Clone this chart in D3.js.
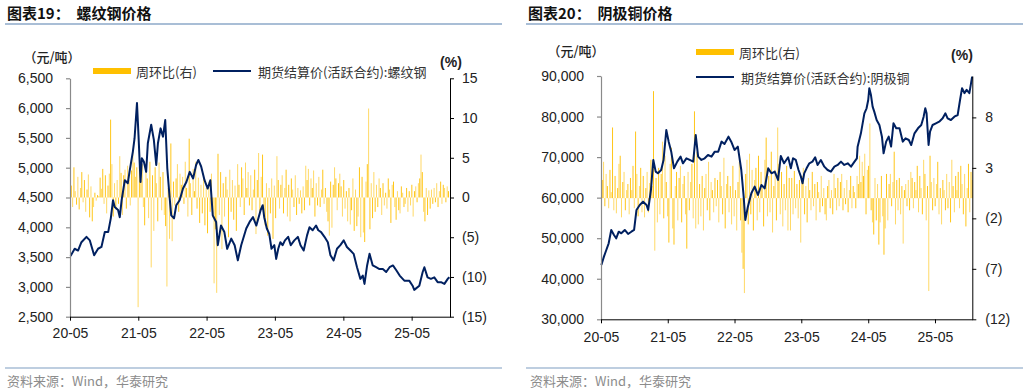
<!DOCTYPE html>
<html><head><meta charset="utf-8">
<script src="https://cdn.jsdelivr.net/npm/d3@7"></script>
<style>
body{margin:0;background:#fff}
svg{display:block}
.num{font-family:"Liberation Sans",Arial,sans-serif}
.cjk{font-family:"Noto Sans CJK SC","Noto Sans",sans-serif}
</style>
</head><body><svg id="c" width="1029" height="392"></svg>
<script>
// ---------- DATA ----------
const barStart = "2020-05-08"; // weekly bars, one per week from this date
const xTickDates = ["2020-05-01","2021-05-01","2022-05-01","2023-05-01","2024-05-01","2025-05-01"];

const rebarDates = ["2020-05-04","2020-05-26","2020-06-13","2020-07-01","2020-07-28","2020-08-15","2020-09-07","2020-09-28","2020-10-16","2020-11-03","2020-11-21","2020-12-05","2020-12-17","2020-12-26","2021-01-13","2021-01-22","2021-02-01","2021-02-18","2021-03-06","2021-03-15","2021-04-02","2021-04-11","2021-04-24","2021-05-02","2021-05-13","2021-05-20","2021-05-31","2021-06-12","2021-06-21","2021-07-09","2021-07-23","2021-08-05","2021-08-14","2021-08-28","2021-09-10","2021-09-22","2021-10-03","2021-10-16","2021-10-24","2021-11-08","2021-11-20","2021-12-08","2021-12-26","2022-01-13","2022-01-31","2022-02-18","2022-03-06","2022-03-18","2022-04-02","2022-04-20","2022-05-07","2022-05-21","2022-06-03","2022-06-21","2022-06-30","2022-07-17","2022-08-04","2022-08-19","2022-09-10","2022-09-28","2022-10-15","2022-11-02","2022-11-29","2022-12-17","2023-01-04","2023-01-22","2023-02-09","2023-02-14","2023-02-25","2023-03-05","2023-03-19","2023-04-01","2023-04-13","2023-04-28","2023-05-08","2023-05-19","2023-05-30","2023-06-11","2023-06-24","2023-07-11","2023-07-25","2023-08-13","2023-09-01","2023-09-15","2023-10-02","2023-10-20","2023-11-02","2023-11-19","2023-12-07","2023-12-19","2024-01-03","2024-01-21","2024-02-08","2024-02-22","2024-03-10","2024-03-28","2024-04-15","2024-05-03","2024-05-20","2024-06-08","2024-06-25","2024-07-13","2024-07-31","2024-08-13","2024-08-22","2024-09-05","2024-09-18","2024-10-05","2024-10-23","2024-11-10","2024-11-28","2024-12-16","2025-01-03","2025-01-21","2025-02-08","2025-02-26","2025-03-23","2025-04-18","2025-05-06","2025-05-15","2025-06-11","2025-06-29","2025-07-08","2025-07-25","2025-08-12","2025-08-30","2025-09-17","2025-10-05","2025-10-23","2025-11-10","2025-11-19"];
const rebarPrice = [3520,3640,3610,3750,3840,3780,3530,3640,3670,3920,3920,4150,4455,4340,4290,4170,4455,4790,4740,4930,5270,5490,6085,5550,4760,5160,5100,4930,5410,5720,5470,5045,5410,5660,5520,5800,4990,4480,4200,4150,4370,4455,4650,4760,4930,4820,5045,5130,5020,4790,4650,4790,4200,4090,3700,4030,3920,3640,3810,3700,3445,3700,3980,4090,4170,4030,4230,4290,4370,4170,3980,3890,3640,3700,3470,3640,3750,3700,3780,3840,3700,3780,3840,3700,3610,3865,4000,3950,4030,3950,3920,3840,3750,3530,3445,3640,3700,3780,3670,3610,3555,3330,3135,3190,3050,3360,3555,3360,3330,3300,3300,3250,3330,3360,3280,3190,3105,3105,3020,2950,3020,3250,3330,3160,3135,3160,3080,3080,3050,3135,3160];
const rebarWoW = [1.5,-1.2,3.8,0.8,-0.9,2.6,-1.5,1.2,3.2,-0.6,
2.2,-1.8,1.0,2.9,-2.5,1.4,-3.0,-1.2,0.6,-0.4,
0.3,0.2,2.5,1.1,3.6,-0.8,2.8,-2.0,1.5,3.0,
9.8,4.2,-2.4,1.8,-1.5,2.2,-0.8,5.2,3.1,-2.2,
2.8,3.5,-1.4,4.0,2.2,-1.0,3.4,5.8,4.4,2.6,
3.8,-13.8,3.9,2.0,4.2,-1.2,-3.5,3.6,2.4,-2.6,
4.5,-8.8,2.8,-4.2,3.8,1.8,-3.0,4.4,2.6,-1.6,
3.2,-2.2,-3.6,-11.2,1.2,-5.2,6.8,-5.5,2.0,-1.0,
2.4,4.2,-1.8,3.0,1.6,2.6,-0.8,4.5,1.2,-2.4,
7.4,1.8,-2.2,3.6,0.8,4.5,-1.4,2.5,-3.2,1.6,
-2.0,2.8,-3.5,1.2,-4.5,2.0,-1.8,3.0,-2.5,-10.8,
-4.0,-12.0,5.5,-2.2,3.2,-6.5,1.8,-2.4,2.6,1.0,
-5.0,3.5,-1.8,2.2,-2.8,1.5,-4.2,4.2,1.6,-1.2,
3.8,2.4,-2.2,4.4,1.2,3.2,-1.0,2.8,-1.6,1.0,
3.5,-4.6,2.2,5.6,-1.8,2.6,
5.4,-2.2,-3.5,1.8,-4.8,1.2,-2.0,2.4,-5.2,1.5,
-2.6,5.2,2.2,-1.4,1.6,2.8,-2.0,1.2,3.5,-2.4,
1.6,-3.0,2.4,1.0,-1.2,2.8,-2.2,1.2,-0.8,0.9,
-2.0,1.4,-1.6,4.0,2.2,3.6,-1.0,2.4,1.2,3.4,
-2.4,1.8,-1.0,2.6,-1.2,1.0,3.5,-0.8,1.2,-1.8,
-3.0,-4.8,2.0,-3.8,1.6,3.8,2.4,-1.6,1.8,3.0,
1.4,-2.4,2.2,-1.4,0.8,-3.0,1.2,-3.4,-1.6,2.4,
-4.2,1.0,-3.6,-2.4,3.8,-5.0,2.6,-4.4,-5.6,2.0,
4.2,11.2,-4.0,1.8,-2.6,3.2,-1.8,1.6,-1.2,2.4,
1.2,-2.2,1.8,-1.0,0.6,-1.4,2.4,1.0,-3.2,1.6,
2.0,-1.2,-2.8,0.8,-1.6,-2.0,1.4,0.6,-1.2,-0.8,
1.2,-1.8,0.8,-1.0,1.6,-2.4,0.8,1.4,-0.6,1.8,
2.4,5.4,3.2,-1.8,-3.0,1.2,-2.2,0.9,-1.4,1.0,
-0.8,1.2,-0.6,1.8,-1.2,0.8,2.0,-0.8,1.6,1.2,
-0.6,1.4,0.8];

const copperDates = ["2020-05-03","2020-05-17","2020-05-30","2020-06-12","2020-06-26","2020-07-11","2020-07-23","2020-08-06","2020-08-20","2020-09-08","2020-09-26","2020-10-14","2020-10-29","2020-11-11","2020-11-29","2020-12-17","2021-01-05","2021-01-14","2021-01-29","2021-02-11","2021-02-24","2021-03-08","2021-03-26","2021-04-08","2021-04-23","2021-05-06","2021-05-20","2021-06-04","2021-06-22","2021-07-10","2021-07-23","2021-08-11","2021-08-29","2021-09-17","2021-10-01","2021-10-14","2021-11-01","2021-11-19","2021-12-07","2021-12-26","2022-01-13","2022-02-01","2022-02-19","2022-03-07","2022-03-29","2022-04-13","2022-05-01","2022-05-19","2022-06-07","2022-06-20","2022-06-29","2022-07-13","2022-08-01","2022-08-19","2022-09-06","2022-09-25","2022-10-13","2022-11-01","2022-11-19","2022-12-07","2022-12-25","2023-01-09","2023-01-27","2023-02-18","2023-02-22","2023-03-05","2023-03-17","2023-04-01","2023-04-16","2023-04-29","2023-05-08","2023-05-17","2023-05-30","2023-06-14","2023-07-01","2023-07-16","2023-07-29","2023-08-16","2023-09-04","2023-09-22","2023-10-10","2023-10-29","2023-11-16","2023-12-04","2023-12-22","2024-01-10","2024-01-28","2024-02-16","2024-02-29","2024-03-04","2024-03-22","2024-04-10","2024-04-22","2024-05-01","2024-05-07","2024-05-16","2024-05-25","2024-06-03","2024-06-16","2024-07-01","2024-07-15","2024-07-24","2024-08-07","2024-08-21","2024-09-03","2024-09-16","2024-10-01","2024-10-19","2024-10-28","2024-11-06","2024-11-21","2024-12-09","2024-12-22","2025-01-09","2025-01-28","2025-02-15","2025-02-28","2025-03-09","2025-03-16","2025-03-27","2025-04-04","2025-04-18","2025-05-06","2025-05-24","2025-06-12","2025-06-27","2025-07-09","2025-07-27","2025-08-15","2025-09-02","2025-09-15","2025-09-26","2025-10-09","2025-10-21","2025-11-05","2025-11-14","2025-11-20"];
const copperPrice = [43400,45450,47100,48740,52030,50800,49970,51600,51200,52030,51040,51600,52030,56960,58190,59010,58190,56960,61890,69290,66410,66000,66820,69290,76690,73810,71340,67230,68880,70110,68470,69700,69290,68880,75450,70110,69290,69700,70520,70110,71340,71340,73810,73230,75040,73810,71760,72580,66820,60250,54490,57780,61070,62710,60660,63120,62300,67230,66000,66410,64360,70270,68470,69950,69290,67230,69700,69290,66820,65180,63530,66000,67230,68470,68880,69950,68060,69290,67640,66820,66410,67640,68060,68880,68060,68470,67640,68880,69700,72580,75860,80800,82030,84080,87000,85300,82440,81210,79150,77920,75040,70930,73810,75040,72580,78330,77100,77100,75450,73810,74630,74220,72990,75860,77100,77920,79970,82030,80800,72990,76280,77920,78330,78740,79560,80800,79560,79150,79970,80380,84080,87000,85770,86590,85770,88200,89840];
const copperWoW = [1.8,3.6,-0.8,2.4,1.2,-1.0,2.8,0.6,7.0,-1.2,
2.2,-1.5,1.0,3.4,4.2,-1.9,1.6,2.6,-1.2,0.8,
1.4,-1.6,2.0,0.8,3.2,-1.0,6.6,2.4,-1.8,1.2,
3.0,-1.4,2.2,-1.9,1.0,2.6,-1.4,1.5,3.8,1.2,
10.6,-5.2,2.0,-2.4,3.0,-1.6,2.4,5.6,-2.0,4.2,
1.6,-1.8,-4.4,3.4,5.0,-3.0,-4.6,1.2,2.6,-2.2,
2.0,3.2,-2.4,1.4,2.2,-1.6,-5.0,2.6,-1.2,1.6,
3.4,-2.0,8.6,-3.0,4.6,-2.6,1.4,-1.8,2.2,-3.2,
1.0,2.4,-1.2,3.6,-2.2,1.6,0.8,-1.4,2.0,-0.8,
1.8,-2.4,2.6,1.2,-1.6,4.0,-3.0,1.4,2.2,-1.4,
1.2,-2.6,3.2,-1.8,0.8,-3.2,1.6,3.6,-2.2,-5.4,
-7.0,-9.4,2.4,3.8,-2.6,4.4,-1.6,2.8,-3.2,1.8,
3.0,-2.2,4.2,-1.4,2.6,1.0,-2.8,3.8,6.0,-1.8,
2.2,-1.4,4.6,-3.4,1.2,2.8,-2.2,7.0,3.4,-1.6,
2.6,-2.8,1.4,-1.2,3.2,-3.2,2.0,
-3.2,2.0,-1.6,2.7,-1.0,1.4,-2.0,1.8,-4.4,2.2,
3.0,-1.6,1.2,-2.4,2.0,0.8,-1.2,2.6,-0.8,1.4,
-2.2,1.6,0.6,-1.4,2.2,-0.8,1.0,-1.6,-2.2,1.2,
1.8,-1.0,0.8,-1.6,2.4,1.0,-1.2,2.0,-0.8,1.6,
2.4,-1.2,1.0,-0.6,1.8,-1.4,0.8,2.2,-1.0,1.2,
0.6,-1.0,2.2,1.4,4.2,1.6,3.6,2.2,4.4,-1.6,
2.8,3.2,7.4,-1.2,-2.4,-3.6,2.0,-2.2,1.4,-4.6,
-2.4,2.2,-1.8,-5.6,-3.0,2.4,-2.2,1.4,2.4,-0.8,
1.6,4.6,-2.6,1.8,-1.2,2.0,-1.6,1.2,-4.5,0.8,
1.4,-0.8,1.8,-1.2,2.6,2.0,-1.0,1.6,0.8,3.2,
-1.4,2.2,1.0,-1.6,3.8,2.4,-2.2,1.2,-9.2,4.2,
1.6,-1.2,2.0,-0.8,1.4,3.6,-1.6,1.0,-2.6,1.8,
0.8,-1.2,2.4,-1.0,1.6,-2.4,3.8,1.2,-1.4,2.2,
0.8,2.6,-1.0,3.2,1.4,-1.6,2.4,-2.8,1.0,3.4,
-1.4,2.6,1.8];

const rebarLeftTicks = [2500,3000,3500,4000,4500,5000,5500,6000,6500];
const rebarRightTicks = [-15,-10,-5,0,5,10,15];
const copperLeftTicks = [30000,40000,50000,60000,70000,80000,90000];
const copperRightTicks = [-12,-7,-2,3,8];

const legendBar = "周环比(右)";
const unitLeft = "（元/吨）";
const unitRight = "(%)";
const sourceText = "资料来源：Wind，华泰研究";

// ---------- DRAW ----------
const svg = d3.select("#c");
const parse = d3.timeParse("%Y-%m-%d");
const BAR = "#FFC000", LINE = "#002060";
const pctFmt = v => v < 0 ? `(${-v})` : `${v}`;

function drawChart(c) {
  const g = svg.append("g");
  g.append("text").attr("class","cjk").attr("x", c.px).attr("y", 19)
    .attr("font-size", 15).attr("font-weight", 700).attr("fill", "#111")
    .attr("xml:space","preserve").style("white-space","pre").text(c.title);
  g.append("line").attr("x1", c.px - 2).attr("x2", c.px + 495).attr("y1", 24).attr("y2", 24)
    .attr("stroke", "#a9bed6").attr("stroke-width", 2);
  g.append("line").attr("x1", c.px - 2).attr("x2", c.px + 495).attr("y1", 368).attr("y2", 368)
    .attr("stroke", "#a9bed6").attr("stroke-width", 1.5);
  g.append("text").attr("class","cjk").attr("x", c.px + c.srcDx).attr("y", 386)
    .attr("font-size", 13).attr("fill", "#8c8c8c").text(sourceText);

  const x = d3.scaleTime().domain([parse("2020-05-01"), parse(c.xEnd)]).range([c.L, c.R]);
  const yL = d3.scaleLinear().domain(c.lDom).range([c.B, c.T]);
  const yR = d3.scaleLinear().domain(c.rDom).range([c.B, c.T]);

  // bars
  const start = parse(barStart);
  const bars = c.wow.map((v, i) => ({d: d3.timeDay.offset(start, 7 * i), v}));
  g.append("g").selectAll("rect").data(bars).join("rect")
    .attr("x", d => x(d.d) - 0.5).attr("width", 1)
    .attr("y", d => Math.min(yR(0), yR(d.v)))
    .attr("height", d => Math.abs(yR(d.v) - yR(0)))
    .attr("fill", BAR).attr("opacity", (d, i) => i % 2 ? 0.6 : 0.9);

  // line
  const pts = c.dates.map((d, i) => ({d: parse(d), v: c.price[i]}));
  g.append("path").datum(pts)
    .attr("d", d3.line().x(d => x(d.d)).y(d => yL(d.v)))
    .attr("fill", "none").attr("stroke", LINE).attr("stroke-width", 2).attr("stroke-linejoin", "round");

  // axes
  const ax = (sel) => sel.selectAll("text").attr("class","num").attr("font-size", 14).attr("fill", "#222");
  const gl = g.append("g").attr("transform", `translate(${c.L},0)`)
    .call(d3.axisLeft(yL).tickValues(c.lTicks).tickFormat(d3.format(",")).tickSize(4).tickSizeOuter(0).tickPadding(13));
  gl.selectAll("path,line").attr("stroke", "#8a8a8a").attr("stroke-width", 1.2);
  gl.call(ax);
  const gr = g.append("g").attr("transform", `translate(${c.R},0)`)
    .call(d3.axisRight(yR).tickValues(c.rTicks).tickFormat(pctFmt).tickSize(4).tickSizeOuter(0).tickPadding(c.rPad));
  gr.selectAll("path,line").attr("stroke", "#000").attr("stroke-width", 1);
  gr.call(ax);
  const gb = g.append("g").attr("transform", `translate(0,${c.B})`)
    .call(d3.axisBottom(x).tickValues(xTickDates.map(parse)).tickFormat(d3.timeFormat("%y-%m")).tickSize(4).tickSizeOuter(0).tickPadding(c.bPad));
  gb.selectAll("path,line").attr("stroke", "#000").attr("stroke-width", 1);
  gb.call(ax);

  // units
  g.append("text").attr("class","cjk").attr("x", c.uL[0]).attr("y", c.uL[1]).attr("text-anchor","middle")
    .attr("dominant-baseline","central").attr("font-size", 13).attr("font-weight", 500).attr("fill", "#222").text(unitLeft);
  g.append("text").attr("class","num").attr("x", c.uR[0]).attr("y", c.uR[1]).attr("text-anchor","middle")
    .attr("dominant-baseline","central").attr("font-size", 14).attr("font-weight", 700).attr("fill", "#222").text(unitRight);

  // legend
  g.append("rect").attr("x", c.lgB[0]).attr("y", c.lgB[1] - 3).attr("width", 38).attr("height", 6).attr("fill", BAR);
  g.append("text").attr("class","cjk").attr("x", c.lgB[0] + 43).attr("y", c.lgB[1]).attr("dominant-baseline","central")
    .attr("font-size", 13).attr("fill", "#333").text(legendBar);
  g.append("line").attr("x1", c.lgL[0]).attr("x2", c.lgL[0] + 38).attr("y1", c.lgL[1]).attr("y2", c.lgL[1])
    .attr("stroke", LINE).attr("stroke-width", 2);
  g.append("text").attr("class","cjk").attr("x", c.lgL[0] + 45).attr("y", c.lgL[1]).attr("dominant-baseline","central")
    .attr("font-size", 13).attr("fill", "#333").text(c.lineName);
}

drawChart({
  px: 7, srcDx: 0, title: "图表19：  螺纹钢价格",
  L: 70, R: 450, T: 78.3, B: 316.7, xEnd: "2025-11-22",
  lDom: [2500, 6500], rDom: [-15, 15], lTicks: rebarLeftTicks, rTicks: rebarRightTicks,
  rPad: 8, bPad: 7.5,
  dates: rebarDates, price: rebarPrice, wow: rebarWoW,
  uL: [52, 56], uR: [451, 62], lgB: [93, 71], lgL: [213, 71],
  lineName: "期货结算价(活跃合约):螺纹钢"
});
drawChart({
  px: 528, srcDx: 2, title: "图表20：  阴极铜价格",
  L: 601, R: 972.3, T: 76, B: 319.3, xEnd: "2025-11-21",
  lDom: [30000, 90000], rDom: [-12, 12.1], lTicks: copperLeftTicks, rTicks: copperRightTicks,
  rPad: 9, bPad: 8.7,
  dates: copperDates, price: copperPrice, wow: copperWoW,
  uL: [576, 50], uR: [962, 55], lgB: [696, 52], lgL: [696, 77],
  lineName: "期货结算价(活跃合约):阴极铜"
});
</script>
</body></html>
